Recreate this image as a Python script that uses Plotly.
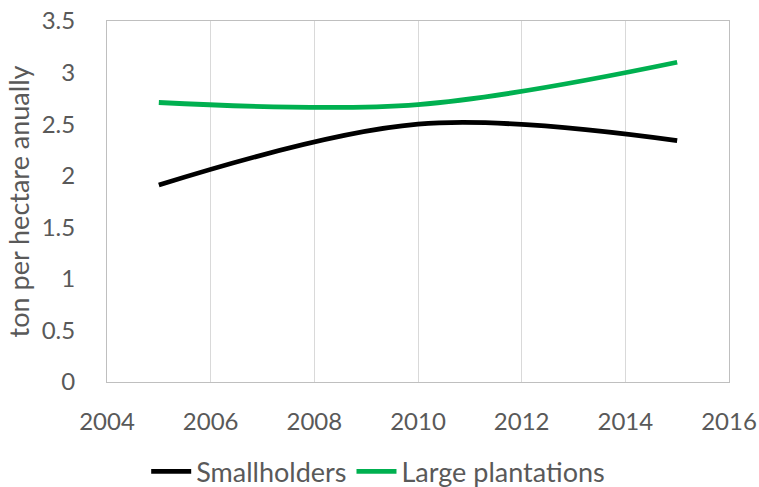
import plotly.graph_objects as go

years = [2005, 2010, 2015]
smallholders = [1.91, 2.50, 2.34]
large_plantations = [2.71, 2.69, 3.10]

x_ticks = [2004, 2006, 2008, 2010, 2012, 2014, 2016]
y_ticks = [0, 0.5, 1, 1.5, 2, 2.5, 3, 3.5]

FONT = "Lato, 'Open Sans', sans-serif"
fig = go.Figure()
fig.add_trace(go.Scatter(x=years, y=smallholders, mode="lines", name="Smallholders",
                         line=dict(color="#000000", width=4.8, shape="spline", smoothing=1)))
fig.add_trace(go.Scatter(x=years, y=large_plantations, mode="lines", name="Large plantations",
                         line=dict(color="#00B050", width=4.8, shape="spline", smoothing=1)))

fig.update_layout(
    width=759, height=487,
    margin=dict(l=107, r=30, t=21, b=105, autoexpand=False),
    plot_bgcolor="white", paper_bgcolor="white",
    font=dict(family=FONT, color="#595959", size=24),
    showlegend=True,
    legend=dict(orientation="h", x=0.436, xanchor="center", y=-0.249, yanchor="middle",
                font=dict(size=27, color="#595959"), itemwidth=40, tracegroupgap=0),
    xaxis=dict(range=[2004, 2016], tickvals=x_ticks, showgrid=True, gridcolor="#D9D9D9",
               gridwidth=1, showline=True, linecolor="#BFBFBF", linewidth=1, mirror=True,
               zeroline=False, ticks="", ticklabelstandoff=18, tickfont=dict(size=24),
               automargin=False),
    yaxis=dict(range=[0, 3.5], tickvals=y_ticks, showgrid=False, showline=True,
               linecolor="#BFBFBF", linewidth=1, mirror=True, zeroline=False,
               ticks="", ticklabelstandoff=26, tickfont=dict(size=24), automargin=False,
               title=dict(text="ton per hectare anually", font=dict(size=27, color="#595959"), standoff=4)),
)

fig.write_html("out.html")
